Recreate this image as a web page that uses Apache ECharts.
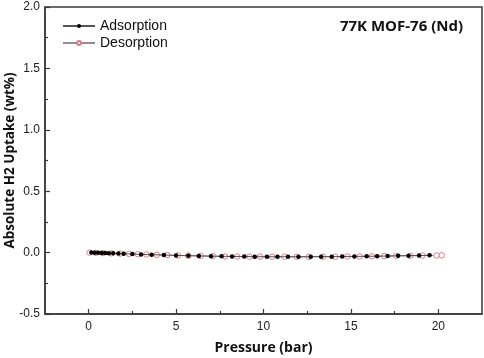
<!DOCTYPE html>
<html><head><meta charset="utf-8">
<script src="https://cdn.jsdelivr.net/npm/echarts@6/dist/echarts.min.js"></script>
<style>html,body{margin:0;padding:0;background:#fff}#c{width:484px;height:358px}</style>
</head><body><div id="c"></div>
<script>
const adsP = [0.15,0.35,0.55,0.75,0.95,1.15,1.4,1.7,2.0,2.5,3.0,3.6,4.3,5.0,5.7,6.3,7.0,7.6,8.2,8.9,9.5,10.2,10.8,11.4,12.0,12.7,13.3,13.9,14.5,15.2,15.9,16.5,17.1,17.7,18.3,18.9,19.5];
const adsW = [0.0,-0.001,-0.002,-0.003,-0.004,-0.005,-0.006,-0.008,-0.009,-0.012,-0.015,-0.017,-0.020,-0.023,-0.025,-0.027,-0.029,-0.030,-0.031,-0.032,-0.033,-0.034,-0.034,-0.034,-0.034,-0.034,-0.033,-0.033,-0.032,-0.031,-0.030,-0.029,-0.028,-0.026,-0.025,-0.024,-0.022];
const desP = [20.2,19.9,19.1,18.4,17.6,16.9,16.2,15.5,14.8,14.1,13.4,12.6,11.9,11.2,10.5,9.8,9.2,8.5,7.8,7.1,6.4,5.7,5.1,4.5,3.9,3.3,2.8,2.3,1.8,1.3,0.8,0.4,0.05];
const desW = [-0.022,-0.023,-0.024,-0.026,-0.027,-0.029,-0.030,-0.031,-0.032,-0.033,-0.033,-0.034,-0.034,-0.034,-0.034,-0.033,-0.033,-0.032,-0.031,-0.029,-0.027,-0.025,-0.023,-0.020,-0.018,-0.015,-0.013,-0.010,-0.008,-0.006,-0.004,-0.002,0.0];
const xMajor = [0,5,10,15,20];
const xMinor = [2.5,7.5,12.5,17.5];

const chart = echarts.init(document.getElementById('c'));
const axisColor = '#3a3a3a';
chart.setOption({
  animation:false,
  grid:{left:45,right:2,top:7,bottom:44,show:true,borderColor:axisColor,borderWidth:1.5,containLabel:false,outerBoundsMode:'none'},
  title:{text:'77K MOF-76 (Nd)',right:16,top:14,textStyle:{fontFamily:'Open Sans',fontWeight:'bold',fontSize:15,color:'#111'}},
  legend:{orient:'vertical',left:57,top:14,itemWidth:32,itemHeight:5,itemGap:3,
    textStyle:{fontFamily:'Liberation Sans',fontSize:14,color:'#111'},
    data:['Adsorption','Desorption']},
  xAxis:[{type:'value',min:-2.5,max:22.5,position:'bottom',
    name:'Pressure (bar)',nameLocation:'middle',nameGap:27,nameMoveOverlap:false,
    nameTextStyle:{fontFamily:'Open Sans',fontWeight:'bold',fontSize:14,color:'#111'},
    axisLine:{show:true,onZero:false,lineStyle:{color:axisColor,width:1.5}},
    axisTick:{show:true,inside:true,length:5,customValues:xMajor,lineStyle:{color:axisColor,width:1.2}},
    axisLabel:{customValues:xMajor,fontFamily:'Liberation Sans',fontSize:12,color:'#222',margin:7},
    splitLine:{show:false}},
   {type:'value',min:-2.5,max:22.5,position:'bottom',
    axisLine:{show:false,onZero:false},axisLabel:{show:false},
    axisTick:{show:true,inside:true,length:3,customValues:xMinor,lineStyle:{color:axisColor,width:1.2}},
    splitLine:{show:false}}],
  yAxis:{type:'value',min:-0.5,max:2.0,interval:0.5,
    name:'Absolute H2 Uptake (wt%)',nameLocation:'middle',nameGap:28,nameMoveOverlap:false,
    nameTextStyle:{fontFamily:'Open Sans',fontWeight:'bold',fontSize:13.5,color:'#111'},
    axisLine:{show:true,onZero:false,lineStyle:{color:axisColor,width:1.5}},
    axisTick:{show:true,inside:true,length:5,lineStyle:{color:axisColor,width:1.2}},
    minorTick:{show:true,splitNumber:2,length:3,lineStyle:{color:axisColor,width:1.2}},
    axisLabel:{fontFamily:'Liberation Sans',fontSize:12,color:'#222',margin:5,
      formatter:v=>v.toFixed(1)},
    splitLine:{show:false},minorSplitLine:{show:false}},
  series:[
    {name:'Adsorption',type:'line',data:adsP.map((p,i)=>[p,adsW[i]]),
     symbol:'circle',symbolSize:4.5,showSymbol:true,
     itemStyle:{color:'#000',borderColor:'#000',borderWidth:0},
     lineStyle:{color:'#555',width:1},z:3},
    {name:'Desorption',type:'line',data:desP.map((p,i)=>[p,desW[i]]),
     symbol:'circle',symbolSize:5.5,showSymbol:true,
     itemStyle:{color:'#fff',borderColor:'#e07c88',borderWidth:1},
     lineStyle:{color:'#9a8c8e',width:1},z:2}
  ]
});
</script></body></html>
